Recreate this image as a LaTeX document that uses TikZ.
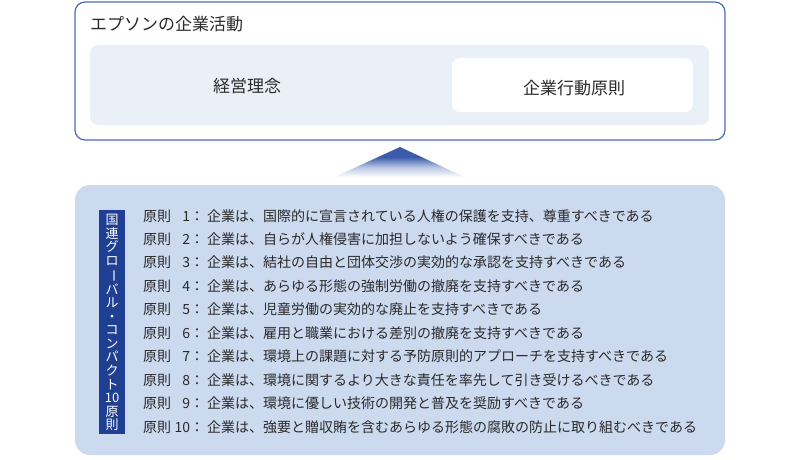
\documentclass[tikz,border=0pt]{standalone}
\usepackage{fontspec}
\setmainfont{Noto Sans CJK JP}
\definecolor{frameblue}{HTML}{4A6CBE}
\definecolor{innerbg}{HTML}{EAF0F8}
\definecolor{lowerbg}{HTML}{CCDAF0}
\definecolor{labelblue}{HTML}{1F3F92}
\definecolor{triblue}{HTML}{3A5CAA}
\definecolor{txt}{HTML}{2A2A2A}
\pgfdeclareverticalshading{trifade}{100bp}{color(0bp)=(white); color(30bp)=(white); color(45bp)=(triblue!35!white); color(60bp)=(triblue); color(100bp)=(triblue)}
\tikzset{
  box/.style={rounded corners=#1, inner sep=0pt, outer sep=0pt},
  principle/.style={anchor=base west, inner sep=0pt, text=txt, font=\fontsize{14pt}{16pt}\selectfont},
  head/.style={inner sep=0pt, text=txt, font=\fontsize{17pt}{19pt}\selectfont, anchor=base},
}
\newcommand{\gen}[2]{原則\makebox[19pt][r]{#1}\makebox[14pt][c]{：}\hspace{3pt}#2}
\begin{document}
\begin{tikzpicture}[x=1pt,y=-1pt]
\useasboundingbox (0,0) rectangle (800,459);
% top frame
\node[box=10pt, draw=frameblue, line width=1.2pt, fill=white, minimum width=650pt, minimum height=138pt] (top) at (400,71) {};
\node[box=8pt, fill=innerbg, minimum width=619pt, minimum height=80pt] (inner) at (399.5,85) {};
\node[box=8pt, fill=white, minimum width=241pt, minimum height=54pt] (wbox) at (572.5,85) {};
\node[head, anchor=base west, font=\fontsize{17pt}{19pt}\selectfont] (title) at (90,30.5) {エプソンの企業活動};
\node[head] (keiei) at (247,92.5) {経営理念};
\node[head] (kodo) at (574,94.5) {企業行動原則};
% triangle
\shade[shading=trifade] (400,147) -- (472,180.5) -- (327,180.5) -- cycle;
% lower box
\node[box=15pt, fill=lowerbg, minimum width=650pt, minimum height=270pt] (low) at (400,320) {};
\node[box=0pt, fill=labelblue, minimum width=26pt, minimum height=224pt] (lab) at (112,322) {};
\node[inner sep=0pt, text=white, align=center, font=\fontsize{13pt}{13.55pt}\selectfont] (labtxt) at (112,322.5)
  {国\\連\\グ\\ロ\\\rotatebox[origin=c]{-90}{ー}\\バ\\ル\\・\\コ\\ン\\パ\\ク\\ト\\10\\原\\則};
% principles
\node[principle] (l1) at (143,221.0) {\gen{1}{企業は、国際的に宣言されている人権の保護を支持、尊重すべきである}};
\node[principle] (l2) at (143,244.5) {\gen{2}{企業は、自らが人権侵害に加担しないよう確保すべきである}};
\node[principle] (l3) at (143,267.9) {\gen{3}{企業は、結社の自由と団体交渉の実効的な承認を支持すべきである}};
\node[principle] (l4) at (143,291.4) {\gen{4}{企業は、あらゆる形態の強制労働の撤廃を支持すべきである}};
\node[principle] (l5) at (143,314.8) {\gen{5}{企業は、児童労働の実効的な廃止を支持すべきである}};
\node[principle] (l6) at (143,338.3) {\gen{6}{企業は、雇用と職業における差別の撤廃を支持すべきである}};
\node[principle] (l7) at (143,361.7) {\gen{7}{企業は、環境上の課題に対する予防原則的アプローチを支持すべきである}};
\node[principle] (l8) at (143,385.2) {\gen{8}{企業は、環境に関するより大きな責任を率先して引き受けるべきである}};
\node[principle] (l9) at (143,408.6) {\gen{9}{企業は、環境に優しい技術の開発と普及を奨励すべきである}};
\node[principle] (l10) at (143,432.1) {\gen{10}{企業は、強要と贈収賄を含むあらゆる形態の腐敗の防止に取り組むべきである}};
\end{tikzpicture}
\end{document}
